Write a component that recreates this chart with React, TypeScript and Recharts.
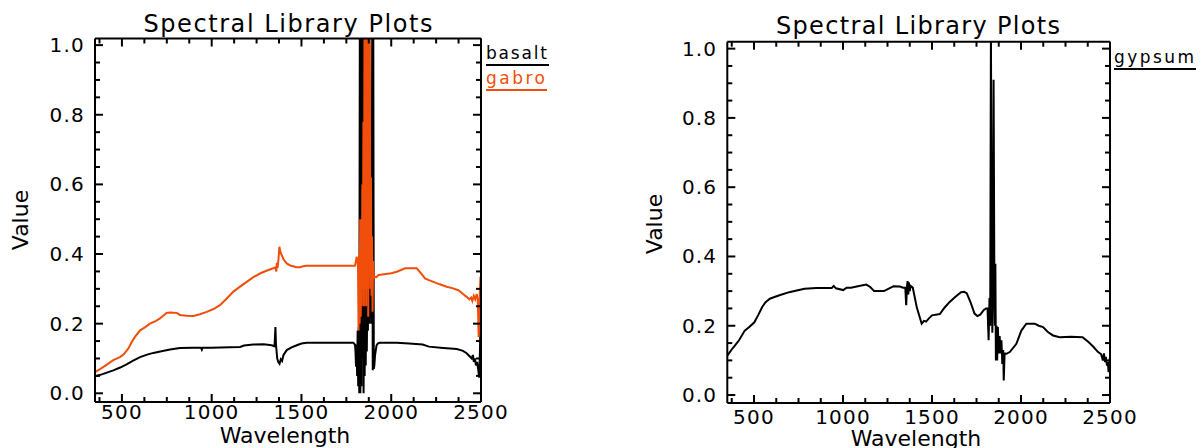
import React from 'react';
import { LineChart, Line, XAxis, YAxis } from 'recharts';

// ---------- axis definitions ----------
const xTicks = [375, 500, 625, 750, 875, 1000, 1125, 1250, 1375, 1500, 1625, 1750, 1875, 2000, 2125, 2250, 2375, 2500];
const xMajorLabels = [500, 1000, 1500, 2000, 2500];
const yTicks = [0, 0.05, 0.1, 0.15, 0.2, 0.25, 0.3, 0.35, 0.4, 0.45, 0.5, 0.55, 0.6, 0.65, 0.7, 0.75, 0.8, 0.85, 0.9, 0.95, 1.0];
const yMajorLabels = [0, 0.2, 0.4, 0.6, 0.8, 1.0];
const xDomain: [number, number] = [350, 2500];
const yDomainLeft: [number, number] = [-0.025, 1.019];
const yDomainRight: [number, number] = [-0.023, 1.02];

const titleText = 'Spectral Library Plots';
const xTitle = 'Wavelength';
const yTitle = 'Value';

// ---------- series: basalt ----------
const basaltWl = [350, 380, 420, 452, 490, 526, 560, 601, 640, 675, 720, 768, 823, 900, 940, 945, 950, 1000, 1100, 1158, 1180, 1232, 1290, 1334, 1350, 1355, 1358, 1365, 1371, 1378, 1385, 1392, 1400, 1418, 1445, 1474, 1500, 1529, 1700, 1789, 1798,
  1801, 1804, 1807, 1810, 1813, 1816, 1819, 1822, 1825, 1828, 1831, 1834, 1837, 1840, 1843, 1846, 1849, 1852, 1855, 1858, 1861, 1864, 1867, 1870, 1873, 1876, 1879, 1882, 1885, 1888, 1891, 1894, 1897, 1900, 1903, 1906, 1910, 1914, 1918, 1925,
  1935, 1960, 2030, 2100, 2175, 2210, 2290, 2365, 2400, 2420, 2435, 2448, 2455, 2460, 2466, 2472, 2478, 2484, 2490, 2494, 2497, 2500];
const basaltVal = [0.049, 0.053, 0.06, 0.066, 0.074, 0.083, 0.093, 0.104, 0.111, 0.116, 0.121, 0.126, 0.13, 0.131, 0.131, 0.125, 0.131, 0.131, 0.132, 0.133, 0.137, 0.14, 0.141, 0.138, 0.135, 0.19, 0.14, 0.1, 0.09, 0.085, 0.098, 0.093, 0.11, 0.124, 0.132, 0.138, 0.143, 0.145, 0.145, 0.145, 0.14,
  0.12, 0.076, 0.14, 0.05, 0.18, 0.02, 0.19, 0.0, 1.05, 0.0, 1.05, 0.02, 1.05, 0.1, 1.05, 0.0, 0.35, 0.05, 0.3, 0.08, 0.34, 0.12, 0.3, 0.18, 0.35, 0.2, 0.32, 0.25, 0.35, 0.2, 0.3, 1.05, 0.066, 1.05, 0.07, 0.08, 0.11, 0.124, 0.137,
  0.143, 0.145, 0.145, 0.145, 0.143, 0.14, 0.134, 0.13, 0.127, 0.122, 0.115, 0.107, 0.1, 0.11, 0.09, 0.1, 0.08, 0.09, 0.07, 0.045, 0.12, 0.2];

// ---------- series: gabro ----------
const gabroWl = [350, 380, 410, 452, 489, 510, 536, 560, 573, 601, 630, 656, 690, 712, 735, 749, 770, 805, 823, 860, 898, 935, 972, 1010, 1046, 1080, 1121, 1160, 1195, 1230, 1269, 1305, 1343, 1355, 1360, 1363, 1367, 1372, 1377, 1383, 1390, 1400, 1418, 1440, 1455, 1470, 1492, 1510, 1529, 1798,
  1808, 1812, 1815, 1818, 1821, 1824, 1827, 1830, 1833, 1836, 1839, 1842, 1845, 1848, 1851, 1854, 1857, 1860, 1863, 1866, 1869, 1872, 1875, 1878, 1881, 1884, 1887, 1890, 1893, 1896, 1899, 1902, 1906,
  1915, 1930, 1960, 2000, 2031, 2077, 2142, 2165, 2188, 2210, 2235, 2270, 2309, 2340, 2374, 2400, 2420, 2435, 2445, 2452, 2460, 2468, 2476, 2482, 2487, 2490, 2494, 2497, 2500];
const gabroVal = [0.061, 0.07, 0.08, 0.095, 0.104, 0.112, 0.129, 0.152, 0.162, 0.181, 0.19, 0.2, 0.208, 0.215, 0.225, 0.231, 0.232, 0.231, 0.225, 0.223, 0.222, 0.227, 0.234, 0.242, 0.253, 0.27, 0.292, 0.307, 0.32, 0.333, 0.344, 0.352, 0.359, 0.362, 0.35, 0.375, 0.36, 0.385, 0.421, 0.405, 0.397, 0.385, 0.373, 0.366, 0.365, 0.362, 0.362, 0.365, 0.366, 0.366,
  0.392, 0.38, 0.36, 0.18, 0.4, 0.2, 0.5, 0.22, 0.45, 0.25, 0.6, 0.3, 0.78, 0.25, 1.05, 0.3, 1.05, 0.25, 1.05, 0.3, 1.05, 0.22, 1.05, 0.35, 1.05, 0.3, 0.62, 0.28, 0.45, 0.234, 0.38, 0.33, 0.335,
  0.333, 0.34, 0.342, 0.345, 0.349, 0.359, 0.359, 0.345, 0.33, 0.325, 0.32, 0.313, 0.306, 0.302, 0.296, 0.285, 0.277, 0.27, 0.275, 0.265, 0.28, 0.27, 0.285, 0.27, 0.162, 0.2, 0.3, 0.335, 0.33];

// ---------- series: gypsum ----------
const gypsumWl = [350, 380, 416, 448, 475, 502, 525, 546, 565, 589, 615, 643, 698, 740, 784, 850, 937, 948, 960, 1001, 1020, 1045, 1090, 1131, 1153, 1175, 1230, 1260, 1283, 1320, 1337, 1350, 1355, 1360, 1363, 1367, 1370, 1375, 1380, 1392, 1414, 1442, 1455, 1467, 1480, 1500, 1544, 1570, 1598, 1630, 1663, 1680, 1695, 1715, 1739, 1755, 1771, 1790, 1803,
  1812, 1818, 1823, 1827, 1831, 1836, 1839, 1843, 1846, 1850, 1853, 1856, 1859, 1863, 1866, 1870, 1875, 1880, 1885, 1890, 1895, 1900, 1903, 1908,
  1918, 1937, 1974, 2002, 2030, 2077, 2100, 2124, 2151, 2180, 2217, 2280, 2346, 2379, 2405, 2433, 2450, 2460, 2466, 2472, 2477, 2483, 2488, 2492, 2496, 2500];
const gypsumVal = [0.114, 0.135, 0.158, 0.186, 0.197, 0.21, 0.232, 0.254, 0.268, 0.278, 0.283, 0.288, 0.297, 0.302, 0.307, 0.309, 0.309, 0.315, 0.308, 0.303, 0.31, 0.31, 0.315, 0.319, 0.312, 0.3, 0.3, 0.308, 0.314, 0.313, 0.31, 0.31, 0.259, 0.315, 0.329, 0.29, 0.325, 0.3, 0.315, 0.31, 0.254, 0.206, 0.214, 0.212, 0.22, 0.23, 0.234, 0.252, 0.268, 0.283, 0.297, 0.298, 0.294, 0.27, 0.235, 0.228, 0.232, 0.245, 0.25,
  0.25, 0.158, 0.28, 0.2, 1.05, 0.36, 0.18, 0.34, 0.91, 0.38, 0.2, 0.379, 0.1, 0.2, 0.1, 0.196, 0.12, 0.17, 0.12, 0.158, 0.09, 0.13, 0.042, 0.12,
  0.119, 0.124, 0.148, 0.186, 0.206, 0.206, 0.2, 0.196, 0.182, 0.172, 0.167, 0.168, 0.167, 0.153, 0.14, 0.124, 0.118, 0.1, 0.12, 0.095, 0.11, 0.085, 0.095, 0.066, 0.09, 0.11];

const BLACK = '#000000';
const ORANGE = '#f04e0a';
const FONT = '"DejaVu Sans", Verdana, sans-serif';

const toPoints = (wl: number[], v: number[]) => wl.map((w, i) => ({ wl: w, v: v[i] }));

const isMajorY = (v: number) => yMajorLabels.some((m) => Math.abs(m - v) < 1e-6);
const isMajorX = (v: number) => xMajorLabels.includes(v);

const bottomTick = (labelDy: number) => (props: any) => {
  const { x, y, payload } = props;
  const v = payload.value;
  const major = isMajorX(v);
  return (
    <g>
      <line x1={x} x2={x} y1={y} y2={y - (major ? 8 : 5)} stroke={BLACK} strokeWidth={2} />
      {major && (
        <text x={x} y={y + labelDy} textAnchor="middle" fontFamily={FONT} fontSize={20} letterSpacing={1.2} fill={BLACK}>
          {v}
        </text>
      )}
    </g>
  );
};
const topTick = (props: any) => {
  const { x, y, payload } = props;
  const major = isMajorX(payload.value);
  return <line x1={x} x2={x} y1={y} y2={y + (major ? 8 : 5)} stroke={BLACK} strokeWidth={2} />;
};
const leftTick = (props: any) => {
  const { x, y, payload } = props;
  const v = payload.value;
  const major = isMajorY(v);
  return (
    <g>
      <line x1={x} x2={x + (major ? 8 : 5)} y1={y} y2={y} stroke={BLACK} strokeWidth={2} />
      {major && (
        <text x={x - 10} y={y + 7} textAnchor="end" fontFamily={FONT} fontSize={20} letterSpacing={1.2} fill={BLACK}>
          {v.toFixed(1)}
        </text>
      )}
    </g>
  );
};
const rightTick = (props: any) => {
  const { x, y, payload } = props;
  const major = isMajorY(payload.value);
  return <line x1={x} x2={x - (major ? 8 : 5)} y1={y} y2={y} stroke={BLACK} strokeWidth={2} />;
};

type Series = { name: string; color: string; wl: number[]; val: number[] };

function Panel(props: {
  left: number;
  width: number;
  height: number;
  plot: { left: number; top: number; right: number; bottom: number };
  yDomain: [number, number];
  series: Series[];
  xLabelDy: number;
}) {
  const { left, width, height, plot, yDomain, series, xLabelDy } = props;
  const axisLine = { stroke: BLACK, strokeWidth: 2 };
  return (
    <div style={{ position: 'absolute', left, top: 0, width, height }}>
      <LineChart
        width={width}
        height={height}
        margin={{ top: plot.top - 1, left: 0, right: width - plot.right - 1, bottom: 0 }}
      >
        <XAxis
          xAxisId={0}
          dataKey="wl"
          type="number"
          domain={xDomain}
          allowDataOverflow
          ticks={xTicks}
          interval={0}
          height={height - plot.bottom}
          axisLine={axisLine}
          tickLine={false}
          tickSize={0}
          tickMargin={0}
          tick={bottomTick(xLabelDy)}
        />
        <XAxis
          xAxisId="top"
          orientation="top"
          dataKey="wl"
          type="number"
          domain={xDomain}
          allowDataOverflow
          ticks={xTicks}
          interval={0}
          height={1}
          axisLine={axisLine}
          tickLine={false}
          tickSize={0}
          tickMargin={0}
          tick={topTick}
        />
        <YAxis
          yAxisId={0}
          type="number"
          domain={yDomain}
          allowDataOverflow
          ticks={yTicks}
          interval={0}
          width={plot.left}
          axisLine={axisLine}
          tickLine={false}
          tickSize={0}
          tickMargin={0}
          tick={leftTick}
        />
        <YAxis
          yAxisId="right"
          orientation="right"
          type="number"
          domain={yDomain}
          allowDataOverflow
          ticks={yTicks}
          interval={0}
          width={1}
          axisLine={axisLine}
          tickLine={false}
          tickSize={0}
          tickMargin={0}
          tick={rightTick}
        />
        {series.map((s) => (
          <Line
            key={s.name}
            name={s.name}
            data={toPoints(s.wl, s.val)}
            dataKey="v"
            xAxisId={0}
            yAxisId={0}
            type="linear"
            stroke={s.color}
            strokeWidth={2}
            dot={false}
            activeDot={false}
            isAnimationActive={false}
          />
        ))}
      </LineChart>
    </div>
  );
}

function Overlay() {
  const legend = (x: number, y: number, text: string, color: string, len: number) => (
    <g>
      <text x={x} y={y} fontFamily={FONT} fontSize={17} fill={color} textLength={len - 2} lengthAdjust="spacing">
        {text}
      </text>
      <line x1={x} x2={x + len} y1={y + 6} y2={y + 6} stroke={color} strokeWidth={2} />
    </g>
  );
  return (
    <svg width={1203} height={448} style={{ position: 'absolute', left: 0, top: 0, pointerEvents: 'none' }}>
      <text x={288} y={31.5} textAnchor="middle" fontFamily={FONT} fontSize={24} textLength={289} lengthAdjust="spacing" fill={BLACK}>
        {titleText}
      </text>
      <text x={918} y={33.5} textAnchor="middle" fontFamily={FONT} fontSize={24} textLength={284} lengthAdjust="spacing" fill={BLACK}>
        {titleText}
      </text>
      <text transform="translate(28,220) rotate(-90)" textAnchor="middle" fontFamily={FONT} fontSize={22} fill={BLACK}>
        {yTitle}
      </text>
      <text transform="translate(662,224) rotate(-90)" textAnchor="middle" fontFamily={FONT} fontSize={22} fill={BLACK}>
        {yTitle}
      </text>
      <text x={285} y={443} textAnchor="middle" fontFamily={FONT} fontSize={22} fill={BLACK}>
        {xTitle}
      </text>
      <text x={916} y={446} textAnchor="middle" fontFamily={FONT} fontSize={22} fill={BLACK}>
        {xTitle}
      </text>
      {legend(486, 59, 'basalt', BLACK, 63)}
      {legend(486, 84, 'gabro', ORANGE, 61)}
      {legend(1114, 63, 'gypsum', BLACK, 82)}
    </svg>
  );
}

export default function App() {
  return (
    <div style={{ position: 'absolute', left: 0, top: 0, width: 1203, height: 448, background: '#fff', overflow: 'hidden' }}>
      <Panel
        left={0}
        width={600}
        height={448}
        plot={{ left: 95, top: 38.5, right: 481, bottom: 402 }}
        yDomain={yDomainLeft}
        xLabelDy={16.5}
        series={[
          { name: 'basalt', color: BLACK, wl: basaltWl, val: basaltVal },
          { name: 'gabro', color: ORANGE, wl: gabroWl, val: gabroVal },
        ]}
      />
      <Panel
        left={600}
        width={603}
        height={448}
        plot={{ left: 127.3, top: 41.7, right: 510, bottom: 403 }}
        yDomain={yDomainRight}
        xLabelDy={21}
        series={[{ name: 'gypsum', color: BLACK, wl: gypsumWl, val: gypsumVal }]}
      />
      <Overlay />
    </div>
  );
}
